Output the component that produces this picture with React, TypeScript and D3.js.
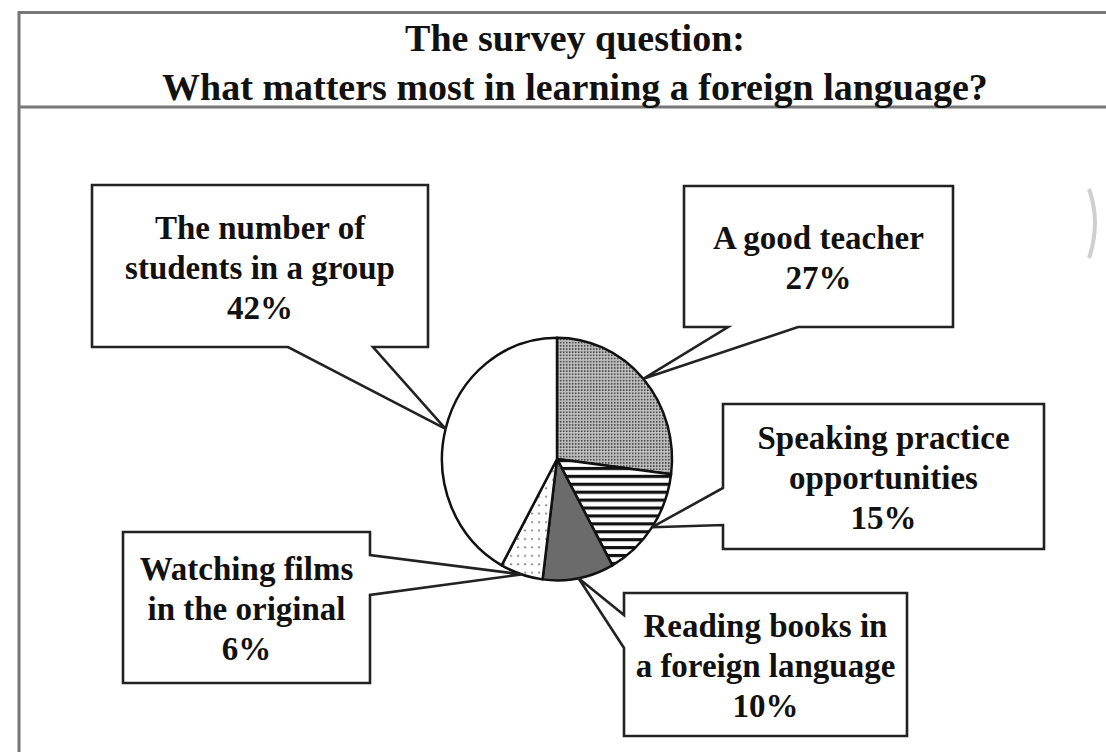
import React from 'react'
import * as d3 from 'd3'

// survey answers, clockwise from 12 o'clock
const categories = [
  'A good teacher',
  'Speaking practice opportunities',
  'Reading books in a foreign language',
  'Watching films in the original',
  'The number of students in a group',
]
const shares = [27, 15, 10, 6, 42]
const labelLines = [
  ['A good teacher'],
  ['Speaking practice', 'opportunities'],
  ['Reading books in', 'a foreign language'],
  ['Watching films', 'in the original'],
  ['The number of', 'students in a group'],
]
const titleLines = ['The survey question:', 'What matters most in learning a foreign language?']

const fills = ['url(#dotsGray)', 'url(#stripes)', '#6b6b6b', 'url(#dotsLight)', '#ffffff']

// where each callout box sits and which edge its pointer leaves from
interface BoxLayout {
  x: number
  y: number
  w: number
  h: number
  side: 'bottom' | 'left' | 'right'
  a: number
  b: number
}
const boxes: BoxLayout[] = [
  { x: 684, y: 186, w: 269, h: 141, side: 'bottom', a: 728, b: 798 },
  { x: 723, y: 404, w: 321, h: 145, side: 'left', a: 488, b: 525 },
  { x: 624, y: 593, w: 283, h: 143, side: 'left', a: 615, b: 648 },
  { x: 123, y: 532, w: 247, h: 151, side: 'right', a: 555, b: 595 },
  { x: 92, y: 185, w: 336, h: 162, side: 'bottom', a: 288, b: 373 },
]

const width = 1106
const height = 752
const cx = 557
const cy = 459
const radius = 115
const squash = 1.055
const font = '"Liberation Serif", "Times New Roman", serif'

const bubblePath = (bx: BoxLayout, tip: [number, number]) => {
  const { x, y, w, h, side, a, b } = bx
  const p = d3.path()
  p.moveTo(x, y)
  if (side === 'right') {
    p.lineTo(x + w, y)
    p.lineTo(x + w, a)
    p.lineTo(tip[0], tip[1])
    p.lineTo(x + w, b)
    p.lineTo(x + w, y + h)
    p.lineTo(x, y + h)
  } else if (side === 'bottom') {
    p.lineTo(x + w, y)
    p.lineTo(x + w, y + h)
    p.lineTo(b, y + h)
    p.lineTo(tip[0], tip[1])
    p.lineTo(a, y + h)
    p.lineTo(x, y + h)
  } else {
    p.lineTo(x + w, y)
    p.lineTo(x + w, y + h)
    p.lineTo(x, y + h)
    p.lineTo(x, b)
    p.lineTo(tip[0], tip[1])
    p.lineTo(x, a)
  }
  p.closePath()
  return p.toString()
}

export default function App() {
  const pie = d3.pie<number>().sort(null).value((d) => d)
  const slices = pie(shares)
  const arc = d3.arc<d3.PieArcDatum<number>>().innerRadius(0).outerRadius(radius)

  const tips = slices.map((s) => {
    const mid = (s.startAngle + s.endAngle) / 2
    return [cx + Math.sin(mid) * radius, cy - Math.cos(mid) * radius * squash] as [number, number]
  })

  return (
    <svg width={width} height={height} style={{ position: 'absolute', left: 0, top: 0, background: '#fff' }}>
      <defs>
        <pattern id="dotsGray" width={3} height={3} patternUnits="userSpaceOnUse">
          <rect width={3} height={3} fill="#b2b2b2" />
          <rect width={1.5} height={1.5} fill="#505050" />
          <rect x={1.5} y={1.5} width={1} height={1} fill="#e0e0e0" />
        </pattern>
        <pattern id="stripes" width={8} height={7.5} patternUnits="userSpaceOnUse">
          <rect width={8} height={7.5} fill="#fff" />
          <rect width={8} height={3} fill="#111" />
        </pattern>
        <pattern id="dotsLight" width={7} height={8} patternUnits="userSpaceOnUse">
          <rect width={7} height={8} fill="#fff" />
          <rect x={2} y={3} width={2.2} height={1.6} fill="#8a8a8a" />
        </pattern>
      </defs>

      <rect width={width} height={height} fill="#fff" />

      {/* frame */}
      <g stroke="#777" strokeWidth={3} fill="none">
        <line x1={19} y1={12.5} x2={width} y2={12.5} />
        <line x1={19} y1={107} x2={width} y2={107} />
        <line x1={19} y1={11} x2={19} y2={height} />
      </g>
      <path d="M1089,189 Q1101,222 1089,258" stroke="#cfcfcf" strokeWidth={4} fill="none" />

      {titleLines.map((t, i) => (
        <text
          key={t}
          x={575}
          y={51 + i * 49}
          textAnchor="middle"
          fontFamily={font}
          fontWeight="bold"
          fontSize={38}
          fill="#111"
        >
          {t}
        </text>
      ))}

      {/* pie */}
      <g transform={`translate(${cx},${cy}) scale(1,${squash})`}>
        {slices.map((s, i) => (
          <path
            key={categories[i]}
            d={arc(s) || ''}
            fill={fills[i]}
            stroke="#111"
            strokeWidth={2.5}
            strokeLinejoin="round"
            vectorEffect="non-scaling-stroke"
          />
        ))}
      </g>

      {/* callouts */}
      {boxes.map((bx, i) => {
        const lines = [...labelLines[i], `${shares[i]}%`]
        const mid = bx.y + bx.h / 2 + 12.5
        return (
          <g key={categories[i]}>
            <path d={bubblePath(bx, tips[i])} fill="#fff" stroke="#222" strokeWidth={2.6} strokeLinejoin="miter" />
            {lines.map((ln, j) => (
              <text
                key={j}
                x={bx.x + bx.w / 2}
                y={mid + (j - (lines.length - 1) / 2) * 40}
                textAnchor="middle"
                fontFamily={font}
                fontWeight="bold"
                fontSize={33}
                fill="#111"
              >
                {ln}
              </text>
            ))}
          </g>
        )
      })}
    </svg>
  )
}
